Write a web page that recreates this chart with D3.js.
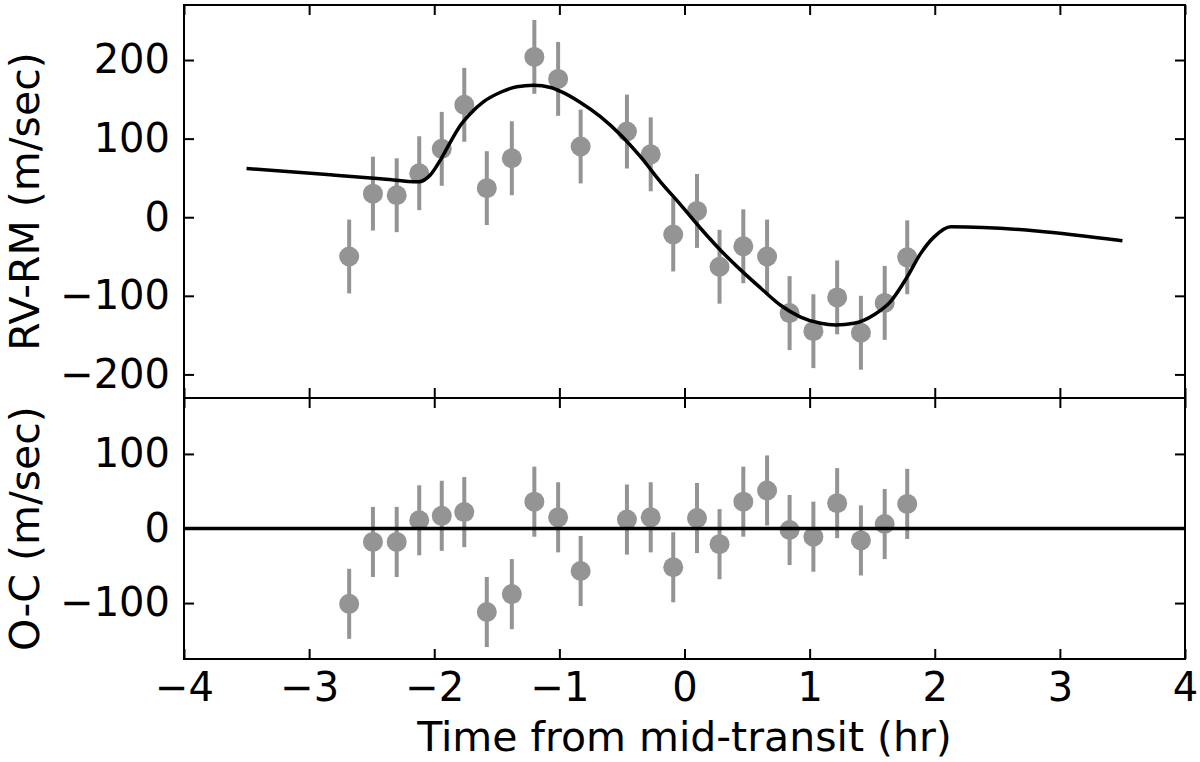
<!DOCTYPE html>
<html>
<head>
	<meta charset="utf-8">
	<title> RM fit </title>
	<script src="https://d3js.org/d3.v7.min.js"></script>
	<style>
		body { margin: 0; background: white; }
		text { font-family: "DejaVu Sans", sans-serif; }
	</style>
</head>
<body>
	<svg id="chart"></svg>
	<script type="text/javascript">

		// observed points (hours from mid-transit, m/sec)
		var times = [-2.68, -2.49, -2.30, -2.12, -1.94, -1.76, -1.58, -1.38, -1.20, -1.01, -0.83, -0.46,
			-0.27, -0.09, 0.10, 0.28, 0.47, 0.66, 0.84, 1.03, 1.22, 1.41, 1.60, 1.78];
		var rv = [-50, 30, 28, 56, 87, 143, 37, 75, 204, 176, 90, 109,
			80, -22, 8, -63, -37, -50, -122, -145, -102, -147, -109, -51];
		var residuals = [-101, -18, -18, 11, 17, 22, -112, -88, 36, 15, -57, 12,
			15, -52, 14, -21, 36, 51, -2, -11, 34, -16, 6, 33];
		var errors = [47, 47, 47, 47, 47, 47, 47, 47, 47, 47, 47, 47,
			47, 47, 47, 47, 47, 47, 47, 47, 47, 47, 47, 47];

		// model curve
		var modelT = [-3.5, -2.83, -2.43, -2.125, -2.03, -1.95, -1.87, -1.79, -1.71, -1.605, -1.47, -1.34,
			-1.206, -1.07, -0.99, -0.832, -0.672, -0.512, -0.352, -0.192, -0.032, 0.128, 0.288, 0.448,
			0.608, 0.768, 0.928, 1.088, 1.208, 1.355, 1.515, 1.648, 1.78, 1.888, 1.995, 2.128, 3.5];
		var modelV = [62, 54, 49, 45, 54, 73, 96, 117, 132, 147, 159, 166,
			168, 165, 160, 146, 128, 105, 77, 45, 16, -14, -42, -67,
			-90, -112, -127, -135, -137, -135, -124, -107, -76, -46, -25, -12, -30];

		var xTicks = [-4, -3, -2, -1, 0, 1, 2, 3, 4];
		var topTicks = [-200, -100, 0, 100, 200];
		var bottomTicks = [-100, 0, 100];

		var w = 1200, h = 762;
		var left = 184, right = 1185;
		var top1 = 5, mid = 398, bottom2 = 659;
		var grey = "#949494";
		var tickFont = 40, labelFont = 41;

		var svg = d3.select("#chart").attr("width", w).attr("height", h);

		var x = d3.scaleLinear().domain([-4, 4]).range([left, right]);
		var yTop = d3.scaleLinear().domain([-230, 270]).range([mid, top1]);
		var yBot = d3.scaleLinear().domain([-175, 175]).range([bottom2, mid]);

		var points = times.map(function(t, i) {
			return { t: t, rv: rv[i], oc: residuals[i], err: errors[i] };
		});

		function drawPanel(y, key, ticks, y0, y1, showX) {
			var g = svg.append("g");

			// error bars then markers
			g.selectAll("line.err").data(points).join("line")
				.attr("class", "err")
				.attr("x1", function(d){ return x(d.t); })
				.attr("x2", function(d){ return x(d.t); })
				.attr("y1", function(d){ return y(d[key] - d.err); })
				.attr("y2", function(d){ return y(d[key] + d.err); })
				.style("stroke", grey).style("stroke-width", 4);

			g.selectAll("circle").data(points).join("circle")
				.attr("cx", function(d){ return x(d.t); })
				.attr("cy", function(d){ return y(d[key]); })
				.attr("r", 10)
				.style("fill", grey);

			// axes with inward ticks on all four sides
			var yl = g.append("g").attr("transform", "translate(" + left + ",0)")
				.call(d3.axisLeft(y).tickValues(ticks).tickSize(-10).tickPadding(14));
			var yr = g.append("g").attr("transform", "translate(" + right + ",0)")
				.call(d3.axisRight(y).tickValues(ticks).tickSize(-10).tickFormat(""));
			var xt = g.append("g").attr("transform", "translate(0," + y1 + ")")
				.call(d3.axisTop(x).tickValues(xTicks).tickSize(-10).tickFormat(""));
			var xb = g.append("g").attr("transform", "translate(0," + y0 + ")")
				.call(d3.axisBottom(x).tickValues(xTicks).tickSize(-10).tickPadding(14)
					.tickFormat(showX ? d3.format("d") : ""));

			[yl, yr, xt, xb].forEach(function(a) {
				a.select(".domain").remove();
				a.selectAll(".tick line").style("stroke", "black").style("stroke-width", 2);
				a.selectAll("text").style("font-size", tickFont + "px").style("fill", "black")
					.style("font-family", "DejaVu Sans");
			});

			return g;
		}

		var topPanel = drawPanel(yTop, "rv", topTicks, mid, top1, false);
		var botPanel = drawPanel(yBot, "oc", bottomTicks, bottom2, mid, true);

		var line = d3.line()
			.x(function(d){ return x(d[0]); })
			.y(function(d){ return yTop(d[1]); })
			.curve(d3.curveMonotoneX);

		topPanel.append("path")
			.datum(modelT.map(function(t, i){ return [t, modelV[i]]; }))
			.attr("d", line)
			.style("fill", "none").style("stroke", "black").style("stroke-width", 3.5);

		botPanel.append("line")
			.attr("x1", x(-4)).attr("x2", x(4))
			.attr("y1", yBot(0)).attr("y2", yBot(0))
			.style("stroke", "black").style("stroke-width", 3.5);

		// frames
		[[top1, mid], [mid, bottom2]].forEach(function(p) {
			svg.append("rect")
				.attr("x", left).attr("y", p[0])
				.attr("width", right - left).attr("height", p[1] - p[0])
				.style("fill", "none").style("stroke", "black").style("stroke-width", 2);
		});

		// axis labels
		svg.append("text")
			.attr("transform", "translate(39," + ((top1 + mid) / 2) + ") rotate(-90)")
			.attr("text-anchor", "middle")
			.style("font-size", labelFont + "px")
			.text("RV-RM (m/sec)");

		svg.append("text")
			.attr("transform", "translate(39," + ((mid + bottom2) / 2) + ") rotate(-90)")
			.attr("text-anchor", "middle")
			.style("font-size", labelFont + "px")
			.text("O-C (m/sec)");

		svg.append("text")
			.attr("x", (left + right) / 2).attr("y", 751)
			.attr("text-anchor", "middle")
			.style("font-size", labelFont + "px")
			.text("Time from mid-transit (hr)");

	</script>
</body>
</html>
